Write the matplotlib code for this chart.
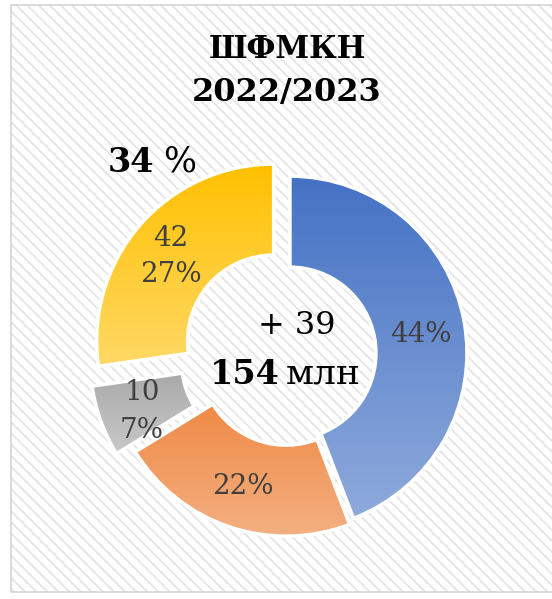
import numpy as np
import matplotlib
matplotlib.use('Agg')
import matplotlib.pyplot as plt
from matplotlib.patches import Rectangle
from matplotlib.colors import to_rgb

# data
values = [68, 34, 10, 42]
pct_labels = ['44%', '22%', '7%', '27%']
value_labels = ['', '', '10', '42']
top_colors = ['#4472C4', '#ED7D31', '#A5A5A5', '#FFC000']
bottom_colors = ['#8FAADC', '#F4B183', '#C9C9C9', '#FFD966']
explode = [2, 6, 22, 19]

title_lines = ['ШФМКН', '2022/2023']
growth_pct = '34'
growth_abs = '+ 39'
total = '154'
unit = 'млн'

W, H = 552, 599
plt.rcParams['font.family'] = ['DejaVu Serif']
plt.rcParams['hatch.linewidth'] = 1.4

fig = plt.figure(figsize=(W / 100, H / 100), dpi=100)
ax = fig.add_axes([0, 0, 1, 1])
ax.set_xlim(0, W)
ax.set_ylim(0, H)
ax.axis('off')


def Y(y):
    return H - y


# background: hatched chart area with a light border
ax.add_patch(Rectangle((11, Y(592)), W, 587, facecolor='white', edgecolor='#e6e6e6',
                       hatch='\\\\\\', linewidth=0, zorder=0))
ax.add_patch(Rectangle((11, Y(592)), W, 587, facecolor='none', edgecolor='#d4d4d4',
                       linewidth=1.2, zorder=0.1))

R = 177
wedges, _ = ax.pie(values, center=(288, Y(353.5)), radius=R, startangle=90,
                   counterclock=False, explode=explode, frame=True,
                   wedgeprops=dict(width=91, edgecolor='white', linewidth=2.5))

# vertical gradient fill clipped to each wedge
for w, c1, c2 in zip(wedges, top_colors, bottom_colors):
    v = w.get_path().vertices
    x0, x1 = v[:, 0].min(), v[:, 0].max()
    y0, y1 = v[:, 1].min(), v[:, 1].max()
    t = np.linspace(0, 1, 256)[:, None]
    grad = (1 - t) * np.array(to_rgb(c1)) + t * np.array(to_rgb(c2))
    grad = np.repeat(grad[:, None, :], 2, axis=1)
    im = ax.imshow(grad, extent=[x0, x1, y0, y1], origin='upper', aspect='auto',
                   interpolation='bilinear', zorder=1)
    im.set_clip_path(w)
    w.set_facecolor('none')
    w.set_zorder(2)

ax.set_xlim(0, W)
ax.set_ylim(0, H)
ax.set_aspect('auto')

lab = dict(color='#404040', fontsize=20, ha='center', va='center', zorder=3)
ax.text(421, Y(334), pct_labels[0], **lab)
ax.text(243, Y(487), pct_labels[1], **lab)
ax.text(142, Y(392), value_labels[2], **lab)
ax.text(142, Y(430), pct_labels[2], **lab)
ax.text(171, Y(238), value_labels[3], **lab)
ax.text(171, Y(275), pct_labels[3], **lab)

# title
ax.text(288, Y(50), title_lines[0], fontsize=22, fontweight='bold', ha='center', va='center')
ax.text(287, Y(93), title_lines[1], fontsize=23, fontweight='bold', ha='center', va='center')

# growth annotation
ax.text(154, Y(172), growth_pct, fontsize=24, fontweight='bold', ha='right', va='baseline')
ax.text(163, Y(172), '%', fontsize=25, ha='left', va='baseline')

# centre text
ax.text(297, Y(334), growth_abs, fontsize=23, ha='center', va='baseline')
ax.text(280, Y(384), total, fontsize=24, fontweight='bold', ha='right', va='baseline')
ax.text(286, Y(384), unit, fontsize=26, ha='left', va='baseline')

fig.savefig('out.png', dpi=100)
